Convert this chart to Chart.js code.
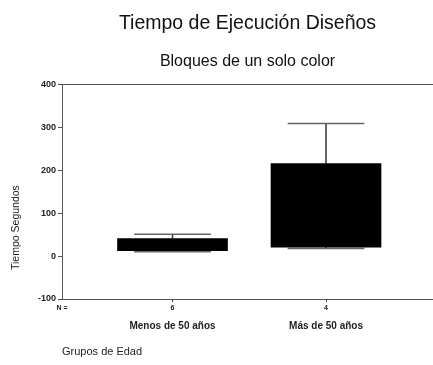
<!DOCTYPE html>
<html>
<head>
<meta charset="utf-8">
<script src="https://cdn.jsdelivr.net/npm/chart.js@4"></script>
<style>
  html, body { margin: 0; padding: 0; background: #fff; }
  #wrap { width: 433px; height: 365px; }
</style>
</head>
<body>
<div id="wrap"><canvas id="c" width="433" height="365"></canvas></div>
<script>
// Execution time (seconds) per age group, solid-colour block designs
const groups = ['Menos de 50 años', 'Más de 50 años'];
const counts = ['6', '4'];
const whiskerLow = [10, 18];
const q1 = [13, 21];
const q3 = [41, 216];
const whiskerHigh = [51, 309];
const yTicks = [-100, 0, 100, 200, 300, 400];

const FONT = "'Liberation Sans', Arial, sans-serif";
const CAP = 0.25;   // half width of whisker caps, in category units

// one floating bar per group: the box from Q1 to Q3
const boxData = groups.map((g, i) => ({ x: i, y: [q1[i], q3[i]] }));

// whisker stems and caps as broken line segments
const stemData = [];
const capData = [];
groups.forEach((g, i) => {
  stemData.push({ x: i, y: q3[i] }, { x: i, y: whiskerHigh[i] }, { x: i, y: null });
  stemData.push({ x: i, y: q1[i] }, { x: i, y: whiskerLow[i] }, { x: i, y: null });
  capData.push({ x: i - CAP, y: whiskerHigh[i] }, { x: i + CAP, y: whiskerHigh[i] }, { x: i, y: null });
  capData.push({ x: i - CAP, y: whiskerLow[i] }, { x: i + CAP, y: whiskerLow[i] }, { x: i, y: null });
});

const X_MIN = -0.72, X_MAX = 1.697;

// vertical axis caption, placed toward the lower part of the plot
const sideTitle = {
  id: 'sideTitle',
  afterDraw(chart) {
    const { ctx, chartArea } = chart;
    ctx.save();
    ctx.translate(16, chartArea.bottom - 29);
    ctx.rotate(-Math.PI / 2);
    ctx.font = '10.5px ' + FONT;
    ctx.fillStyle = '#222';
    ctx.textAlign = 'left';
    ctx.textBaseline = 'middle';
    ctx.fillText('Tiempo Segundos', 0, 0);
    ctx.restore();
  }
};

new Chart(document.getElementById('c'), {
  type: 'bar',
  data: {
    datasets: [
      {
        type: 'line', data: capData, borderColor: '#666', borderWidth: 1.5,
        pointRadius: 0, spanGaps: false, order: 1
      },
      {
        type: 'line', data: stemData, borderColor: '#333', borderWidth: 1.5,
        pointRadius: 0, spanGaps: false, order: 2
      },
      {
        type: 'bar', data: boxData, backgroundColor: '#000', borderWidth: 0,
        barThickness: 110, order: 0
      }
    ]
  },
  options: {
    responsive: false,
    animation: false,
    layout: { padding: 0 },
    plugins: {
      legend: { display: false },
      tooltip: { enabled: false },
      title: {
        display: true, text: 'Tiempo de Ejecución Diseños', fullSize: false,
        color: '#111', font: { family: FONT, size: 19.5, weight: 'normal' },
        padding: { top: 12, bottom: 0 }
      },
      subtitle: {
        display: true, text: 'Bloques de un solo color', fullSize: false,
        color: '#111', font: { family: FONT, size: 16, weight: 'normal' },
        padding: { top: 17, bottom: 13 }
      }
    },
    scales: {
      y: {
        type: 'linear', min: -100, max: 400,
        afterFit(s) { s.width = 62; },
        afterBuildTicks(s) { s.ticks = yTicks.map(v => ({ value: v })); },
        border: { display: true, color: '#555', width: 1 },
        grid: {
          drawOnChartArea: true, tickLength: 4, tickColor: '#555',
          color: c => (c.tick && c.tick.value === 400 ? '#555' : 'rgba(0,0,0,0)')
        },
        ticks: { color: '#222', padding: 2, font: { family: FONT, size: 9, weight: 'bold' } }
      },
      x: {
        type: 'linear', position: 'bottom', min: X_MIN, max: X_MAX, offset: false,
        afterFit(s) { s.height = 17; },
        afterBuildTicks(s) { s.ticks = [{ value: X_MIN }, { value: 0 }, { value: 1 }]; },
        border: { display: true, color: '#555', width: 1 },
        grid: {
          offset: false, drawOnChartArea: false, tickLength: 3,
          tickColor: c => (c.tick && c.tick.value === X_MIN ? 'rgba(0,0,0,0)' : '#444')
        },
        ticks: {
          color: '#222', padding: 2, maxRotation: 0, autoSkip: false,
          font: { family: FONT, size: 7, weight: 'bold' },
          callback: v => (v === X_MIN ? 'N =' : counts[v])
        }
      },
      x2: {
        type: 'linear', position: 'bottom', min: X_MIN, max: X_MAX, offset: false,
        afterFit(s) { s.height = 49; },
        afterBuildTicks(s) { s.ticks = [{ value: 0 }, { value: 1 }]; },
        border: { display: false },
        grid: { display: false, offset: false },
        ticks: {
          color: '#222', padding: -4, maxRotation: 0, autoSkip: false,
          font: { family: FONT, size: 10, weight: 'bold' },
          callback: v => groups[v]
        },
        title: {
          display: true, text: 'Grupos de Edad', align: 'start', color: '#222',
          font: { family: FONT, size: 11, weight: 'normal' },
          padding: { top: 0, bottom: 6 }
        }
      }
    }
  },
  plugins: [sideTitle]
});
</script>
</body>
</html>
